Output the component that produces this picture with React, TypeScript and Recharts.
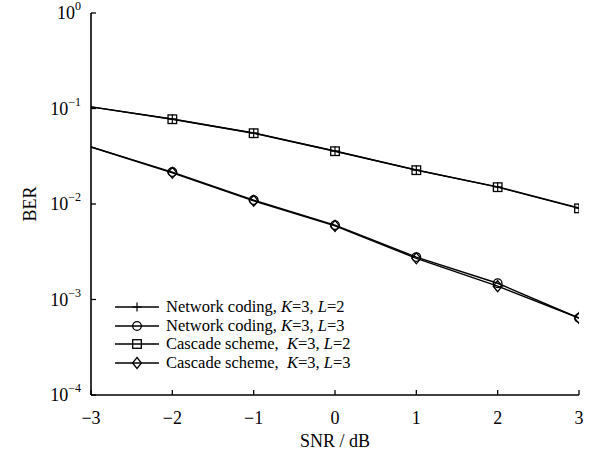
import React from 'react';
import { LineChart, Line, XAxis, YAxis, Legend } from 'recharts';

const snrValues = [-3, -2, -1, 0, 1, 2, 3];
const ncL2 = [0.104, 0.0776, 0.0554, 0.0359, 0.0227, 0.0151, 0.0091];
const ncL3 = [0.0395, 0.0216, 0.011, 0.006, 0.00278, 0.00148, 0.00064];
const csL2 = [0.104, 0.0772, 0.0551, 0.0357, 0.0226, 0.015, 0.0090];
const csL3 = [0.0395, 0.0212, 0.0108, 0.0059, 0.0027, 0.00138, 0.00064];
const xTicks = [-3, -2, -1, 0, 1, 2, 3];
const yTicks = [1e-4, 1e-3, 1e-2, 1e-1, 1];
const yExponents = ['\u22124', '\u22123', '\u22122', '\u22121', '0'];

const data = snrValues.map((s, i) => ({
  snr: s,
  ncL2: ncL2[i],
  ncL3: ncL3[i],
  csL2: csL2[i],
  csL3: csL3[i],
}));

const FONT = '"Liberation Serif", "Times New Roman", serif';
const SW = 1.4;
const TICK_SIZE = 0;
const Y_TICK_MARGIN = 10;
const X_TICK_MARGIN = 0;
const INNER_TICK = 5;

type MarkerKind = 'plus' | 'circle' | 'square' | 'diamond';

function Marker({ kind, cx, cy }: { kind: MarkerKind; cx: number; cy: number }) {
  if (kind === 'plus') {
    return (
      <g stroke="#000" strokeWidth={1.2}>
        <line x1={cx - 4.5} y1={cy} x2={cx + 4.5} y2={cy} />
        <line x1={cx} y1={cy - 4.5} x2={cx} y2={cy + 4.5} />
      </g>
    );
  }
  if (kind === 'circle') {
    return <circle cx={cx} cy={cy} r={4.3} fill="none" stroke="#000" strokeWidth={1.3} />;
  }
  if (kind === 'square') {
    return <rect x={cx - 4.3} y={cy - 4.3} width={8.6} height={8.6} fill="none" stroke="#000" strokeWidth={1.3} />;
  }
  return (
    <polygon
      points={`${cx},${cy - 5.5} ${cx + 4.5},${cy} ${cx},${cy + 5.5} ${cx - 4.5},${cy}`}
      fill="none"
      stroke="#000"
      strokeWidth={1.3}
    />
  );
}

const makeDot = (kind: MarkerKind) => (props: any) => {
  const { cx, cy, index } = props;
  if (index === 0 || cx == null || cy == null) return <g key={`${kind}-${index}`} />;
  return (
    <g key={`${kind}-${index}`}>
      <Marker kind={kind} cx={cx} cy={cy} />
    </g>
  );
};

const YTick = (props: any) => {
  const { x, y, payload } = props;
  const idx = yTicks.indexOf(payload.value);
  const exp = idx >= 0 ? yExponents[idx] : '';
  const axisX = x + TICK_SIZE + Y_TICK_MARGIN;
  return (
    <g>
      <line x1={axisX} y1={y} x2={axisX + INNER_TICK} y2={y} stroke="#000" strokeWidth={1.3} />
      <text x={x} y={y} dy={6} textAnchor="end" fontFamily={FONT} fontSize={18} fill="#000">
        10
        <tspan dy={-9} fontSize={12}>
          {exp}
        </tspan>
      </text>
    </g>
  );
};

const XTick = (props: any) => {
  const { x, y, payload } = props;
  const axisY = y - TICK_SIZE - X_TICK_MARGIN;
  const v = payload.value as number;
  const label = v < 0 ? `\u2212${Math.abs(v)}` : `${v}`;
  return (
    <g>
      <line x1={x} y1={axisY} x2={x} y2={axisY - INNER_TICK} stroke="#000" strokeWidth={1.3} />
      <text x={x} y={axisY} dy={29} textAnchor="middle" fontFamily={FONT} fontSize={18} fill="#000">
        {label}
      </text>
    </g>
  );
};

const legendItems: { kind: MarkerKind; name: string; sep: string; L: string }[] = [
  { kind: 'plus', name: 'Network coding,', sep: ' ', L: '2' },
  { kind: 'circle', name: 'Network coding,', sep: ' ', L: '3' },
  { kind: 'square', name: 'Cascade scheme,', sep: '\u00a0\u00a0', L: '2' },
  { kind: 'diamond', name: 'Cascade scheme,', sep: '\u00a0\u00a0', L: '3' },
];

const LegendContent = () => (
  <div style={{ fontFamily: FONT, fontSize: 16.5, color: '#000', lineHeight: '18.5px' }}>
    {legendItems.map((it) => (
      <div key={it.kind} style={{ display: 'flex', alignItems: 'center', height: 18.5, whiteSpace: 'nowrap' }}>
        <svg width={44} height={14} style={{ marginRight: 7 }}>
          <line x1={0} y1={7} x2={44} y2={7} stroke="#000" strokeWidth={SW} />
          <Marker kind={it.kind} cx={22} cy={7} />
        </svg>
        <span>
          {it.name}
          {it.sep}
          <i>K</i>=3, <i>L</i>={it.L}
        </span>
      </div>
    ))}
  </div>
);

export default function App() {
  return (
    <div style={{ position: 'absolute', left: 0, top: 0, width: 602, height: 464, background: '#fff' }}>
      <LineChart width={602} height={464} data={data} margin={{ top: 13, right: 23, left: 0, bottom: 0 }}>
        <XAxis
          dataKey="snr"
          type="number"
          domain={[-3, 3]}
          ticks={xTicks}
          height={69}
          tickSize={TICK_SIZE}
          tickMargin={X_TICK_MARGIN}
          tickLine={false}
          tick={<XTick />}
          axisLine={{ stroke: '#000', strokeWidth: 1.6 }}
          allowDataOverflow
          label={(p: any) => {
            const vb = p.viewBox;
            return (
              <text x={vb.x + vb.width / 2} y={vb.y + 52} textAnchor="middle" fontFamily={FONT} fontSize={18} fill="#000">
                SNR / dB
              </text>
            );
          }}
        />
        <XAxis xAxisId="top" orientation="top" dataKey="snr" type="number" domain={[-3, 3]} height={0} tick={false} tickLine={false} axisLine={{ stroke: '#000', strokeWidth: 1.6 }} />
        <YAxis
          scale="log"
          domain={[1e-4, 1]}
          ticks={yTicks}
          width={91}
          tickSize={TICK_SIZE}
          tickMargin={Y_TICK_MARGIN}
          tickLine={false}
          tick={<YTick />}
          axisLine={{ stroke: '#000', strokeWidth: 1.6 }}
          allowDataOverflow
          label={(p: any) => {
            const vb = p.viewBox;
            const cx = vb.x + 30;
            const cy = vb.y + vb.height / 2;
            return (
              <text x={cx} y={cy} textAnchor="middle" dominantBaseline="central" transform={`rotate(-90 ${cx} ${cy})`} fontFamily={FONT} fontSize={18} fill="#000">
                BER
              </text>
            );
          }}
        />
        <YAxis yAxisId="right" orientation="right" scale="log" domain={[1e-4, 1]} width={0} tick={false} tickLine={false} axisLine={{ stroke: '#000', strokeWidth: 1.6 }} />
        <Legend
          layout="vertical"
          verticalAlign="middle"
          align="center"
          content={<LegendContent />}
          wrapperStyle={{ position: 'absolute', left: 115, top: 298, width: 260 }}
        />
        <Line dataKey="ncL2" stroke="#000" strokeWidth={SW} dot={makeDot('plus')} activeDot={false} isAnimationActive={false} />
        <Line dataKey="ncL3" stroke="#000" strokeWidth={SW} dot={makeDot('circle')} activeDot={false} isAnimationActive={false} />
        <Line dataKey="csL2" stroke="#000" strokeWidth={SW} dot={makeDot('square')} activeDot={false} isAnimationActive={false} />
        <Line dataKey="csL3" stroke="#000" strokeWidth={SW} dot={makeDot('diamond')} activeDot={false} isAnimationActive={false} />
      </LineChart>
    </div>
  );
}
